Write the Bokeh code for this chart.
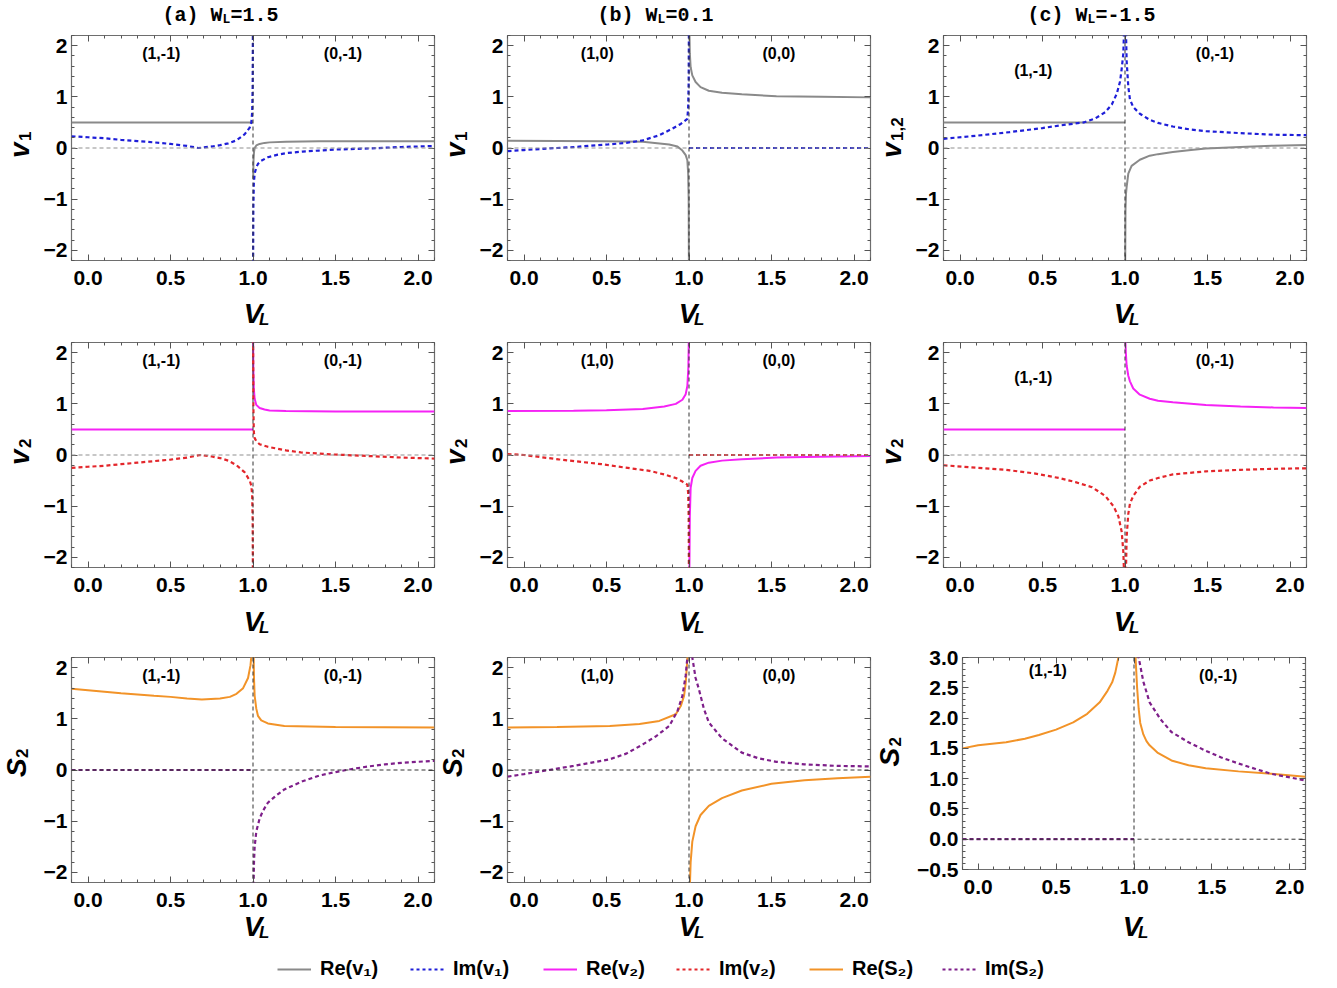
import math
from bokeh.plotting import figure
from bokeh.layouts import column, row
from bokeh.models import Range1d, FixedTicker, LinearAxis, Span, Label, Legend, LegendItem
from bokeh.embed import file_html
from bokeh.resources import INLINE

# ---------------- data ----------------
# column (a)  W_L = 1.5
a1_re_Lx = [-0.1, 1.0]
a1_re_Ly = [0.5, 0.5]
a1_re_Rx = [1.001, 1.003, 1.006, 1.01, 1.02, 1.04, 1.07, 1.1, 1.2, 1.4, 1.7, 2.1]
a1_re_Ry = [-0.6, -0.25, -0.08, 0.0, 0.05, 0.08, 0.1, 0.11, 0.12, 0.13, 0.13, 0.13]
a1_im_Lx = [-0.1, 0.0, 0.1, 0.2, 0.3, 0.4, 0.5, 0.6, 0.67, 0.75, 0.8, 0.85, 0.9, 0.95, 0.98, 0.99, 0.995, 0.998, 0.9995]
a1_im_Ly = [0.23, 0.21, 0.19, 0.16, 0.135, 0.11, 0.08, 0.04, 0.0, 0.03, 0.055, 0.09, 0.15, 0.27, 0.4, 0.5, 0.7, 1.2, 2.4]
a1_im_Rx = [1.0005, 1.002, 1.005, 1.01, 1.02, 1.03, 1.05, 1.09, 1.15, 1.2, 1.3, 1.4, 1.5, 1.7, 1.9, 2.1]
a1_im_Ry = [-2.4, -1.2, -0.7, -0.5, -0.38, -0.31, -0.25, -0.18, -0.13, -0.1, -0.07, -0.05, -0.03, -0.01, 0.02, 0.04]

a2_re_Lx = [-0.1, 1.0]
a2_re_Ly = [0.5, 0.5]
a2_re_Rx = [1.0005, 1.002, 1.005, 1.01, 1.02, 1.04, 1.07, 1.1, 1.2, 1.5, 2.1]
a2_re_Ry = [2.4, 1.7, 1.3, 1.1, 0.98, 0.92, 0.89, 0.87, 0.86, 0.85, 0.85]
a2_im_Lx = [-0.1, 0.0, 0.1, 0.2, 0.3, 0.4, 0.5, 0.6, 0.68, 0.75, 0.8, 0.85, 0.9, 0.95, 0.98, 0.99, 0.995, 0.998, 0.9995]
a2_im_Ly = [-0.25, -0.23, -0.21, -0.18, -0.15, -0.12, -0.09, -0.05, 0.0, -0.03, -0.06, -0.11, -0.2, -0.34, -0.5, -0.6, -0.8, -1.3, -2.4]
a2_im_Rx = [1.0005, 1.002, 1.005, 1.01, 1.02, 1.04, 1.09, 1.2, 1.29, 1.49, 1.7, 1.9, 2.1]
a2_im_Ry = [2.4, 1.0, 0.45, 0.33, 0.27, 0.21, 0.16, 0.09, 0.05, 0.01, -0.02, -0.05, -0.07]

a3_re_Lx = [-0.1, 0.0, 0.2, 0.4, 0.5, 0.6, 0.69, 0.8, 0.86, 0.9, 0.94, 0.97, 0.985, 0.995]
a3_re_Ly = [1.59, 1.56, 1.5, 1.45, 1.43, 1.4, 1.38, 1.4, 1.43, 1.49, 1.6, 1.8, 2.05, 2.4]
a3_re_Rx = [1.003, 1.006, 1.01, 1.02, 1.03, 1.05, 1.09, 1.19, 1.5, 2.1]
a3_re_Ry = [2.4, 1.8, 1.45, 1.2, 1.06, 0.97, 0.91, 0.86, 0.84, 0.83]
a3_im_Lx = [-0.1, 1.0]
a3_im_Ly = [0.0, 0.0]
a3_im_Rx = [1.003, 1.006, 1.01, 1.02, 1.04, 1.06, 1.09, 1.14, 1.19, 1.3, 1.4, 1.5, 1.6, 1.7, 1.8, 1.9, 2.0, 2.1]
a3_im_Ry = [-2.4, -1.8, -1.5, -1.2, -0.95, -0.8, -0.64, -0.5, -0.38, -0.22, -0.11, -0.04, 0.02, 0.07, 0.11, 0.14, 0.16, 0.18]

# column (b)  W_L = 0.1
b1_re_Lx = [-0.1, 0.2, 0.5, 0.72, 0.88, 0.93, 0.96, 0.98, 0.99, 0.995, 0.998, 0.9995]
b1_re_Ly = [0.14, 0.135, 0.13, 0.12, 0.07, 0.03, -0.05, -0.14, -0.24, -0.5, -1.0, -2.4]
b1_re_Rx = [1.002, 1.005, 1.01, 1.02, 1.04, 1.07, 1.12, 1.2, 1.32, 1.53, 1.8, 2.1]
b1_re_Ry = [2.4, 1.85, 1.58, 1.42, 1.29, 1.19, 1.12, 1.08, 1.05, 1.01, 1.0, 0.99]
b1_im_Lx = [-0.1, 0.0, 0.1, 0.2, 0.31, 0.4, 0.51, 0.62, 0.72, 0.82, 0.9, 0.95, 0.99, 0.995, 0.998, 0.9995]
b1_im_Ly = [-0.06, -0.04, -0.02, 0.0, 0.02, 0.045, 0.07, 0.1, 0.15, 0.25, 0.38, 0.47, 0.57, 0.8, 1.3, 2.4]
b1_im_Rx = [1.0, 2.1]
b1_im_Ry = [0.0, 0.0]

b2_re_Lx = [-0.1, 0.3, 0.5, 0.72, 0.85, 0.92, 0.96, 0.98, 0.99, 0.996, 0.9995]
b2_re_Ly = [0.86, 0.865, 0.875, 0.9, 0.95, 1.0, 1.08, 1.19, 1.35, 1.7, 2.4]
b2_re_Rx = [1.002, 1.005, 1.01, 1.02, 1.04, 1.07, 1.12, 1.2, 1.32, 1.53, 1.8, 2.1]
b2_re_Ry = [-2.4, -1.2, -0.64, -0.45, -0.31, -0.21, -0.15, -0.11, -0.085, -0.05, -0.035, -0.02]
b2_im_Lx = [-0.1, 0.0, 0.21, 0.47, 0.6, 0.76, 0.85, 0.92, 0.96, 0.99, 0.995, 0.998, 0.9995]
b2_im_Ly = [0.02, 0.0, -0.085, -0.18, -0.24, -0.31, -0.38, -0.45, -0.52, -0.58, -0.75, -1.2, -2.4]
b2_im_Rx = [1.0, 2.1]
b2_im_Ry = [0.0, 0.0]

b3_re_Lx = [-0.1, 0.2, 0.52, 0.7, 0.82, 0.92, 0.95, 0.97, 0.98, 0.99, 0.995]
b3_re_Ly = [0.83, 0.84, 0.86, 0.9, 0.96, 1.09, 1.25, 1.45, 1.7, 2.17, 2.5]
b3_re_Rx = [1.004, 1.01, 1.02, 1.04, 1.07, 1.12, 1.2, 1.32, 1.5, 1.7, 1.9, 2.1]
b3_re_Ry = [-2.4, -1.8, -1.4, -1.1, -0.88, -0.7, -0.55, -0.4, -0.27, -0.2, -0.16, -0.13]
b3_im_Lx = [-0.1, 0.0, 0.15, 0.3, 0.52, 0.62, 0.72, 0.8, 0.88, 0.93, 0.96, 0.98, 0.99, 0.995]
b3_im_Ly = [-0.13, -0.08, 0.0, 0.08, 0.21, 0.32, 0.5, 0.66, 0.86, 1.15, 1.45, 1.85, 2.2, 2.5]
b3_im_Rx = [1.01, 1.02, 1.04, 1.06, 1.09, 1.12, 1.2, 1.32, 1.42, 1.53, 1.7, 1.9, 2.1]
b3_im_Ry = [2.5, 2.2, 1.8, 1.58, 1.2, 0.93, 0.62, 0.34, 0.23, 0.16, 0.11, 0.08, 0.07]

# column (c)  W_L = -1.5
c1_re_Lx = [-0.1, 1.0]
c1_re_Ly = [0.5, 0.5]
c1_re_Rx = [1.001, 1.003, 1.006, 1.01, 1.02, 1.04, 1.09, 1.15, 1.2, 1.29, 1.4, 1.49, 1.7, 1.9, 2.1]
c1_re_Ry = [-2.4, -1.2, -0.9, -0.76, -0.5, -0.35, -0.23, -0.15, -0.12, -0.08, -0.04, -0.01, 0.02, 0.045, 0.06]
c1_im_Lx = [-0.1, 0.1, 0.3, 0.5, 0.65, 0.75, 0.82, 0.88, 0.92, 0.95, 0.97, 0.98, 0.99, 0.995]
c1_im_Ly = [0.18, 0.24, 0.31, 0.39, 0.46, 0.5, 0.58, 0.7, 0.85, 1.06, 1.3, 1.55, 1.85, 2.4]
c1_im_Rx = [1.005, 1.01, 1.02, 1.03, 1.05, 1.09, 1.15, 1.2, 1.29, 1.4, 1.49, 1.7, 1.9, 2.1]
c1_im_Ry = [2.4, 1.7, 1.2, 0.95, 0.8, 0.67, 0.55, 0.49, 0.42, 0.36, 0.33, 0.29, 0.26, 0.25]

c2_re_Lx = [-0.1, 1.0]
c2_re_Ly = [0.5, 0.5]
c2_re_Rx = [1.0005, 1.005, 1.01, 1.02, 1.03, 1.05, 1.09, 1.15, 1.2, 1.29, 1.49, 1.7, 1.9, 2.1]
c2_re_Ry = [2.4, 2.0, 1.75, 1.55, 1.44, 1.3, 1.18, 1.1, 1.06, 1.03, 0.98, 0.95, 0.93, 0.92]
c2_im_Lx = [-0.1, 0.1, 0.28, 0.45, 0.6, 0.7, 0.8, 0.88, 0.93, 0.96, 0.98, 0.99, 0.995]
c2_im_Ly = [-0.2, -0.25, -0.29, -0.36, -0.45, -0.53, -0.63, -0.8, -1.0, -1.2, -1.5, -1.9, -2.4]
c2_im_Rx = [1.005, 1.01, 1.02, 1.03, 1.05, 1.09, 1.15, 1.2, 1.29, 1.49, 1.7, 1.9, 2.1]
c2_im_Ry = [-2.4, -1.6, -1.15, -0.95, -0.8, -0.62, -0.5, -0.45, -0.38, -0.32, -0.29, -0.27, -0.26]

c3_re_Lx = [-0.1, 0.0, 0.18, 0.3, 0.39, 0.5, 0.61, 0.7, 0.78, 0.83, 0.86, 0.88, 0.9, 0.91]
c3_re_Ly = [1.5, 1.55, 1.6, 1.66, 1.72, 1.81, 1.93, 2.07, 2.26, 2.45, 2.59, 2.75, 3.0, 3.2]
c3_re_Rx = [1.005, 1.01, 1.02, 1.03, 1.04, 1.06, 1.08, 1.1, 1.15, 1.24, 1.35, 1.46, 1.67, 1.88, 2.1]
c3_re_Ry = [3.3, 3.0, 2.5, 2.15, 1.92, 1.73, 1.62, 1.55, 1.43, 1.3, 1.22, 1.17, 1.12, 1.08, 1.03]
c3_im_Lx = [-0.1, 1.0]
c3_im_Ly = [0.0, 0.0]
c3_im_Rx = [1.02, 1.03, 1.06, 1.1, 1.17, 1.24, 1.35, 1.46, 1.56, 1.67, 1.78, 1.88, 2.0, 2.1]
c3_im_Ry = [3.4, 3.0, 2.6, 2.26, 1.98, 1.77, 1.6, 1.46, 1.35, 1.25, 1.16, 1.08, 1.02, 0.97]

# texts
col_letters = ["(a)", "(b)", "(c)"]
col_wl = ["=1.5", "=0.1", "=-1.5"]
region_left = ["(1,-1)", "(1,0)", "(1,-1)"]
region_right = ["(0,-1)", "(0,0)", "(0,-1)"]
x_ticks = [0.0, 0.5, 1.0, 1.5, 2.0]
x_tick_labels = ["0.0", "0.5", "1.0", "1.5", "2.0"]
y_ticks = [-2, -1, 0, 1, 2]
y_tick_labels = ["\u22122", "\u22121", "0", "1", "2"]
y9_ticks = [-0.5, 0.0, 0.5, 1.0, 1.5, 2.0, 2.5, 3.0]
y9_tick_labels = ["\u22120.5", "0.0", "0.5", "1.0", "1.5", "2.0", "2.5", "3.0"]
legend_labels = ["Re(v\u2081)", "Im(v\u2081)", "Re(v\u2082)", "Im(v\u2082)", "Re(S\u2082)", "Im(S\u2082)"]

# ---------------- styling ----------------
GRAY = "#8a8a8a"
BLUE = "#1e1ed8"
MAGENTA = "#f522f5"
RED = "#e3262b"
ORANGE = "#f29328"
PURPLE = "#7e1f8a"
TICK = "#555555"
SANS = "Liberation Sans"
MONO = "Liberation Mono"
DASH = "4 3"

x_minor = [round(-0.1 + 0.1 * i, 2) for i in range(23)]
y_minor = [round(-2.2 + 0.2 * i, 2) for i in range(23)]
y9_minor = [round(-0.5 + 0.1 * i, 2) for i in range(36)]

# horizontal geometry of the three columns: y-label strip, panel left border, frame, right border
PL = 30
FW = 363
COLS = [dict(strip=40, left=PL, right=4),
        dict(strip=38, left=PL, right=4),
        dict(strip=38, left=PL, right=10)]
PANEL9 = dict(strip=40, left=47, fw=343, right=11)


def blank_fig(fw, fh, left, right, top, bottom, xr, yr):
    f = figure(frame_width=fw, frame_height=fh, x_range=xr, y_range=yr,
               x_axis_location=None, y_axis_location=None,
               min_border_left=left, min_border_right=right,
               min_border_top=top, min_border_bottom=bottom,
               outline_line_color=None, toolbar_location=None, output_backend="svg",
               title=None, background_fill_color="white", border_fill_color="white")
    for g in f.grid:
        g.visible = False
    return f


def style_axis(ax, ticks, minor, labels, show, standoff):
    ax.ticker = FixedTicker(ticks=ticks, minor_ticks=minor)
    ax.major_tick_in = 6
    ax.major_tick_out = 0
    ax.minor_tick_in = 3
    ax.minor_tick_out = 0
    ax.major_tick_line_color = TICK
    ax.minor_tick_line_color = TICK
    ax.axis_line_color = None
    if show:
        ax.major_label_overrides = {float(t): l for t, l in zip(ticks, labels)}
        ax.major_label_text_font = SANS
        ax.major_label_text_font_style = "bold"
        ax.major_label_text_font_size = "21px"
        ax.major_label_text_color = "black"
        ax.major_label_standoff = standoff
    else:
        ax.major_label_text_font_size = "1px"
        ax.major_label_text_color = None
        ax.major_label_standoff = 0


def make_panel(curves, ylo, yhi, yt, ym, ytl, left, fw, fh, top, bottom, right, reg,
               hline_color, ystandoff=4):
    p = figure(frame_width=fw, frame_height=fh,
               x_range=Range1d(-0.1, 2.1), y_range=Range1d(ylo, yhi),
               min_border_left=left, min_border_right=right,
               min_border_top=top, min_border_bottom=bottom,
               output_backend="svg", toolbar_location=None, title=None,
               background_fill_color="white", border_fill_color="white",
               outline_line_color="#6e6e6e", outline_line_width=1.2)
    p.grid.visible = False
    style_axis(p.xaxis[0], x_ticks, x_minor, x_tick_labels, True, 10)
    style_axis(p.yaxis[0], yt, ym, ytl, True, ystandoff)
    ax_top = LinearAxis()
    style_axis(ax_top, x_ticks, x_minor, x_tick_labels, False, 0)
    p.add_layout(ax_top, "above")
    ax_right = LinearAxis()
    style_axis(ax_right, yt, ym, ytl, False, 0)
    p.add_layout(ax_right, "right")

    p.add_layout(Span(location=0, dimension="width", line_color=hline_color,
                      line_dash=DASH, line_width=1))
    p.add_layout(Span(location=1.0, dimension="height", line_color="#333333",
                      line_dash=DASH, line_width=1))

    for xs, ys, color, dashed in curves:
        if dashed:
            p.line(xs, ys, line_color=color, line_width=2.2, line_dash=DASH)
        else:
            p.line(xs, ys, line_color=color, line_width=2.0)

    for (tx, rx, ry) in reg:
        p.add_layout(Label(x=rx, y=ry, text=tx, text_font=SANS, text_font_style="bold",
                           text_font_size="16px", text_align="center", text_baseline="middle",
                           text_color="black"))
    return p


def ylabel_strip(width, fh, top, bottom, ylo, yhi, main, sub, yy, xoff, main_off, sub_off):
    f = blank_fig(width, fh, 0, 0, top, bottom, Range1d(0, 1), Range1d(ylo, yhi))
    f.add_layout(Label(x=1, y=yy, text=main, angle=math.pi / 2, x_offset=xoff,
                       y_offset=main_off, text_font=SANS, text_font_style="bold italic",
                       text_font_size="28px", text_align="left", text_baseline="alphabetic",
                       text_color="black"))
    f.add_layout(Label(x=1, y=yy, text=sub, angle=math.pi / 2, x_offset=xoff + 5,
                       y_offset=sub_off, text_font=SANS, text_font_style="bold",
                       text_font_size="17px", text_align="left", text_baseline="alphabetic",
                       text_color="black"))
    return f


def xlabel_strip(left, fw, right, h, v_off):
    f = blank_fig(fw, h, left, right, 0, 0, Range1d(-0.1, 2.1), Range1d(0, 1))
    f.add_layout(Label(x=1.0, y=1, text="V", x_offset=1, y_offset=v_off,
                       text_font=SANS, text_font_style="bold italic", text_font_size="28px",
                       text_align="center", text_baseline="alphabetic", text_color="black"))
    f.add_layout(Label(x=1.0, y=1, text="L", x_offset=7, y_offset=v_off - 6,
                       text_font=SANS, text_font_style="bold italic", text_font_size="17px",
                       text_align="left", text_baseline="alphabetic", text_color="black"))
    return f


def c(xs, ys, color, dashed):
    return (xs, ys, color, dashed)


row1_curves = [
    [c(a1_re_Lx, a1_re_Ly, GRAY, False), c(a1_re_Rx, a1_re_Ry, GRAY, False),
     c(a1_im_Lx, a1_im_Ly, BLUE, True), c(a1_im_Rx, a1_im_Ry, BLUE, True)],
    [c(b1_re_Lx, b1_re_Ly, GRAY, False), c(b1_re_Rx, b1_re_Ry, GRAY, False),
     c(b1_im_Lx, b1_im_Ly, BLUE, True), c(b1_im_Rx, b1_im_Ry, BLUE, True)],
    [c(c1_re_Lx, c1_re_Ly, GRAY, False), c(c1_re_Rx, c1_re_Ry, GRAY, False),
     c(c1_im_Lx, c1_im_Ly, BLUE, True), c(c1_im_Rx, c1_im_Ry, BLUE, True)],
]
row2_curves = [
    [c(a2_re_Lx, a2_re_Ly, MAGENTA, False), c(a2_re_Rx, a2_re_Ry, MAGENTA, False),
     c(a2_im_Lx, a2_im_Ly, RED, True), c(a2_im_Rx, a2_im_Ry, RED, True)],
    [c(b2_re_Lx, b2_re_Ly, MAGENTA, False), c(b2_re_Rx, b2_re_Ry, MAGENTA, False),
     c(b2_im_Lx, b2_im_Ly, RED, True), c(b2_im_Rx, b2_im_Ry, RED, True)],
    [c(c2_re_Lx, c2_re_Ly, MAGENTA, False), c(c2_re_Rx, c2_re_Ry, MAGENTA, False),
     c(c2_im_Lx, c2_im_Ly, RED, True), c(c2_im_Rx, c2_im_Ry, RED, True)],
]
row3_curves = [
    [c(a3_re_Lx, a3_re_Ly, ORANGE, False), c(a3_re_Rx, a3_re_Ry, ORANGE, False),
     c(a3_im_Lx, a3_im_Ly, PURPLE, True), c(a3_im_Rx, a3_im_Ry, PURPLE, True)],
    [c(b3_re_Lx, b3_re_Ly, ORANGE, False), c(b3_re_Rx, b3_re_Ry, ORANGE, False),
     c(b3_im_Lx, b3_im_Ly, PURPLE, True), c(b3_im_Rx, b3_im_Ry, PURPLE, True)],
    [c(c3_re_Lx, c3_re_Ly, ORANGE, False), c(c3_re_Rx, c3_re_Ry, ORANGE, False),
     c(c3_im_Lx, c3_im_Ly, PURPLE, True), c(c3_im_Rx, c3_im_Ry, PURPLE, True)],
]

title_offsets = [92, 92, 87]

# ---- title strip ----
titles = []
for i in range(3):
    g = COLS[i]
    f = blank_fig(FW, 31, g["strip"] + g["left"], g["right"], 0, 0,
                  Range1d(-0.1, 2.1), Range1d(0, 1))
    off = title_offsets[i]
    f.add_layout(Label(x=-0.1, y=1, text=col_letters[i] + " W", x_offset=off, y_offset=-15,
                       text_font=MONO, text_font_style="bold", text_font_size="20px",
                       text_align="left", text_baseline="alphabetic", text_color="black"))
    f.add_layout(Label(x=-0.1, y=1, text="L", x_offset=off + 60, y_offset=-19,
                       text_font=MONO, text_font_style="bold", text_font_size="13px",
                       text_align="left", text_baseline="alphabetic", text_color="black"))
    f.add_layout(Label(x=-0.1, y=1, text=col_wl[i], x_offset=off + 68, y_offset=-15,
                       text_font=MONO, text_font_style="bold", text_font_size="20px",
                       text_align="left", text_baseline="alphabetic", text_color="black"))
    titles.append(f)

# ---- panel rows ----
row1_items, row2_items, row3_items = [], [], []
xl1, xl2, xl3 = [], [], []
YV = -21   # anchor of rotated "v" labels, from the strip's right edge
YS = -24   # anchor of rotated "S" labels
for i in range(3):
    g = COLS[i]
    sw, pl, rb = g["strip"], g["left"], g["right"]
    ly1 = 1.51 if i == 2 else 1.85
    sub1 = "1,2" if i == 2 else "1"
    # row 1
    reg = [(region_left[i], 0.444, ly1), (region_right[i], 1.545, 1.85)]
    row1_items.append(ylabel_strip(sw, 225, 4, 37, -2.2, 2.2, "v", sub1, 0.0, YV, -10, 7))
    row1_items.append(make_panel(row1_curves[i], -2.2, 2.2, y_ticks, y_minor, y_tick_labels,
                                 pl, FW, 225, 4, 37, rb, reg, "#8f8f8f"))
    xl1.append(xlabel_strip(sw + pl, FW, rb, 38, -16))
    # row 2
    reg2 = [(region_left[i], 0.444, ly1), (region_right[i], 1.545, 1.85)]
    row2_items.append(ylabel_strip(sw, 225, 7, 37, -2.2, 2.2, "v", "2", 0.0, YV, -10, 7))
    row2_items.append(make_panel(row2_curves[i], -2.2, 2.2, y_ticks, y_minor, y_tick_labels,
                                 pl, FW, 225, 7, 37, rb, reg2, "#8f8f8f"))
    xl2.append(xlabel_strip(sw + pl, FW, rb, 38, -17))
    # row 3
    if i < 2:
        reg3 = [(region_left[i], 0.444, 1.85), (region_right[i], 1.545, 1.85)]
        row3_items.append(ylabel_strip(sw, 225, 5, 37, -2.2, 2.2, "S", "2", 0.0, YS, -7, 12))
        row3_items.append(make_panel(row3_curves[i], -2.2, 2.2, y_ticks, y_minor, y_tick_labels,
                                     pl, FW, 225, 5, 37, rb, reg3, "#333333"))
        xl3.append(xlabel_strip(sw + pl, FW, rb, 33, -17))
    else:
        q = PANEL9
        reg3 = [(region_left[i], 0.447, 2.79), (region_right[i], 1.54, 2.70)]
        row3_items.append(ylabel_strip(q["strip"], 212, 15, 40, -0.5, 3.0, "S", "2", 1.2,
                                       -25, 0, 20))
        row3_items.append(make_panel(row3_curves[i], -0.5, 3.0, y9_ticks, y9_minor, y9_tick_labels,
                                     q["left"], q["fw"], 212, 15, 40, q["right"], reg3,
                                     "#333333", ystandoff=4))
        xl3.append(xlabel_strip(q["strip"] + q["left"], q["fw"], q["right"], 33, -17))

# ---------------- legend strip ----------------
lf = blank_fig(1313, 38, 0, 0, 0, 0, Range1d(0, 1), Range1d(0, 1))
leg_styles = [(GRAY, False), (BLUE, True), (MAGENTA, False), (RED, True), (ORANGE, False), (PURPLE, True)]
items = []
for lab, (col, dashed) in zip(legend_labels, leg_styles):
    if dashed:
        r = lf.line([5, 6], [5, 5], line_color=col, line_width=2, line_dash="3 3")
    else:
        r = lf.line([5, 6], [5, 5], line_color=col, line_width=2)
    items.append(LegendItem(label=lab, renderers=[r]))
legend = Legend(items=items, orientation="horizontal", location=(277, 0),
                glyph_width=34, glyph_height=20, label_standoff=9, label_width=68,
                spacing=22, padding=0, margin=0, border_line_color=None,
                background_fill_alpha=0, label_text_font=SANS, label_text_font_style="bold",
                label_text_font_size="20px", label_text_color="black")
lf.add_layout(legend)

layout = column(row(*titles), row(*row1_items), row(*xl1), row(*row2_items), row(*xl2),
                row(*row3_items), row(*xl3), lf)
open("out.html", "w").write(file_html(layout, INLINE))
